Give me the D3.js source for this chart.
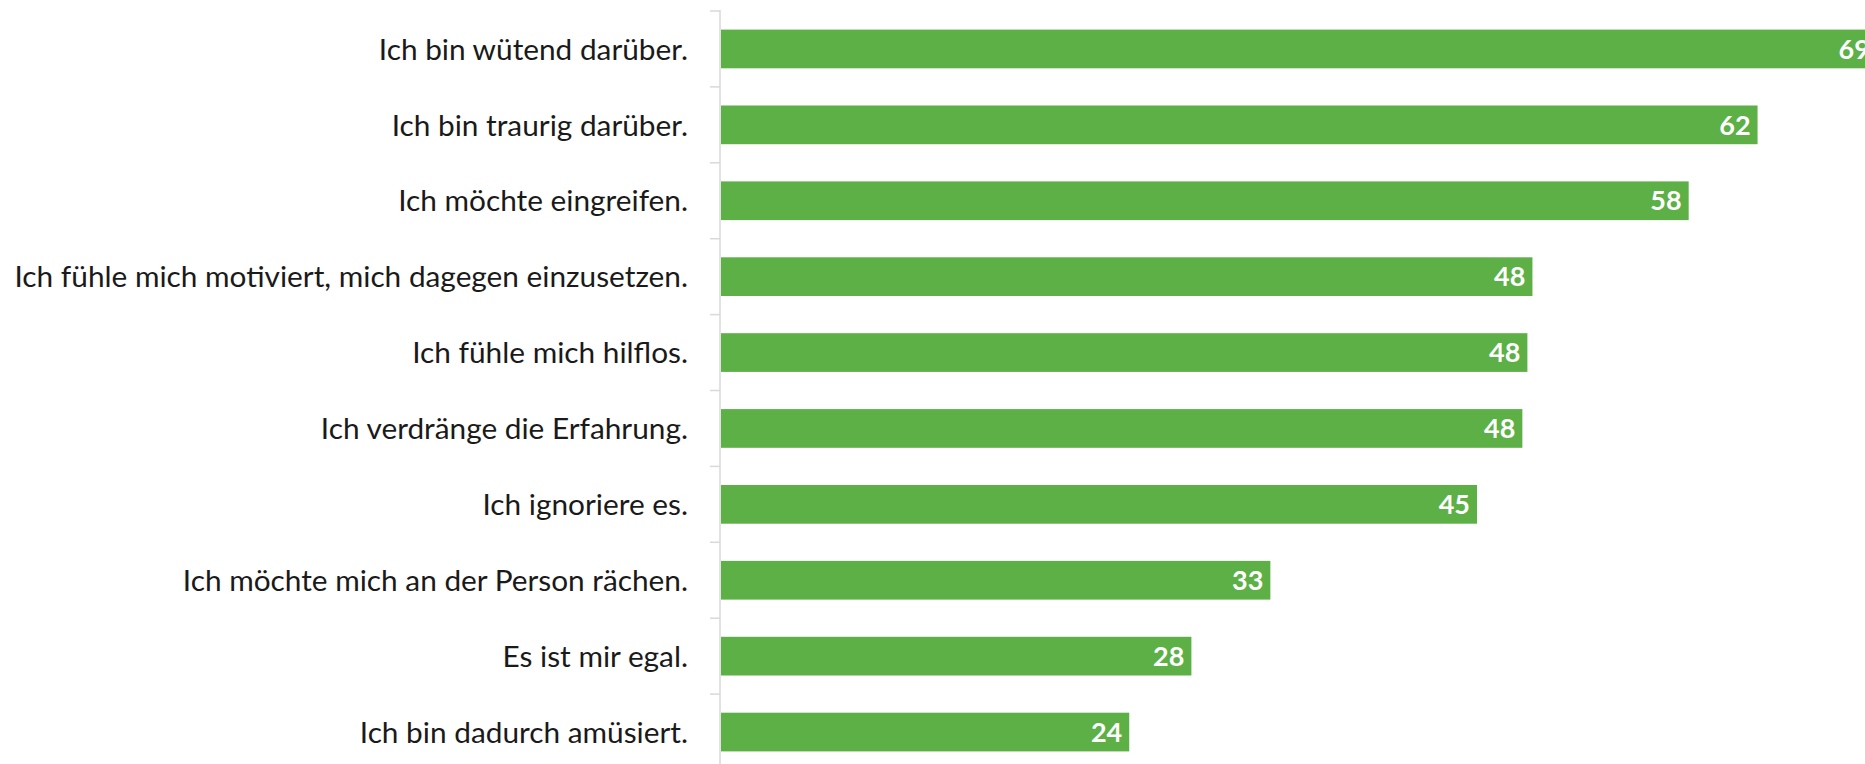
<!DOCTYPE html>
<html>
<head>
<meta charset="utf-8">
<script src="https://cdn.jsdelivr.net/npm/d3@7"></script>
<style>
  html, body { margin: 0; padding: 0; background: #fff; }
  svg { display: block; }
</style>
</head>
<body>
<svg id="chart" width="1865" height="764"></svg>
<script>
// Antworten (von oben nach unten)
const categories = [
  "Ich bin wütend darüber.",
  "Ich bin traurig darüber.",
  "Ich möchte eingreifen.",
  "Ich fühle mich motiviert, mich dagegen einzusetzen.",
  "Ich fühle mich hilflos.",
  "Ich verdränge die Erfahrung.",
  "Ich ignoriere es.",
  "Ich möchte mich an der Person rächen.",
  "Es ist mir egal.",
  "Ich bin dadurch amüsiert."
];
// Prozent (aus Balkenlänge geschätzt)
const values = [68.8, 61.7, 57.6, 48.3, 48.0, 47.7, 45.0, 32.7, 28.0, 24.3];
const valueLabels = ["69", "62", "58", "48", "48", "48", "45", "33", "28", "24"];

const svg = d3.select("#chart");
const axisX = 720;

const x = d3.scaleLinear().domain([0, 70]).range([axisX + 1, axisX + 1 + 70 * 16.8]);
const y = d3.scaleBand()
  .domain(categories)
  .range([11, 11 + categories.length * 75.9])
  .paddingInner(0.49)
  .paddingOuter(0.245);

const step = y.step();
const top0 = y.range()[0];

// Achse (Excel-Stil: Ticks an den Kategoriegrenzen)
const ax = svg.append("g").attr("class", "axis");
ax.append("line")
  .attr("x1", axisX).attr("x2", axisX)
  .attr("y1", top0 - 1).attr("y2", 764)
  .attr("stroke", "#d9d9d9").attr("stroke-width", 1.5);
ax.selectAll(".tick")
  .data(d3.range(categories.length + 1))
  .enter().append("line")
  .attr("class", "tick")
  .attr("x1", axisX - 10).attr("x2", axisX)
  .attr("y1", i => top0 + i * step).attr("y2", i => top0 + i * step)
  .attr("stroke", "#d9d9d9").attr("stroke-width", 1.5);

// Kategorien
svg.append("g").selectAll("text")
  .data(categories)
  .enter().append("text")
  .attr("x", 688)
  .attr("y", d => y(d) + y.bandwidth() / 2)
  .attr("dy", "0.36em")
  .attr("text-anchor", "end")
  .style("font-family", "Lato, 'Open Sans', sans-serif")
  .style("font-size", "29.8px")
  .style("fill", "#1a1a1a")
  .text(d => d);

// Balken
const bars = svg.append("g").selectAll("g")
  .data(categories)
  .enter().append("g");

bars.append("rect")
  .attr("x", x(0))
  .attr("y", d => y(d))
  .attr("width", (d, i) => x(values[i]) - x(0))
  .attr("height", y.bandwidth())
  .attr("fill", "#5db046");

bars.append("text")
  .attr("x", (d, i) => x(values[i]) - 7)
  .attr("y", d => y(d) + y.bandwidth() / 2)
  .attr("dy", "0.36em")
  .attr("text-anchor", "end")
  .style("font-family", "Lato, 'Open Sans', sans-serif")
  .style("font-weight", "bold")
  .style("font-size", "27px")
  .style("fill", "#fff")
  .text((d, i) => valueLabels[i]);
</script>
</body>
</html>
